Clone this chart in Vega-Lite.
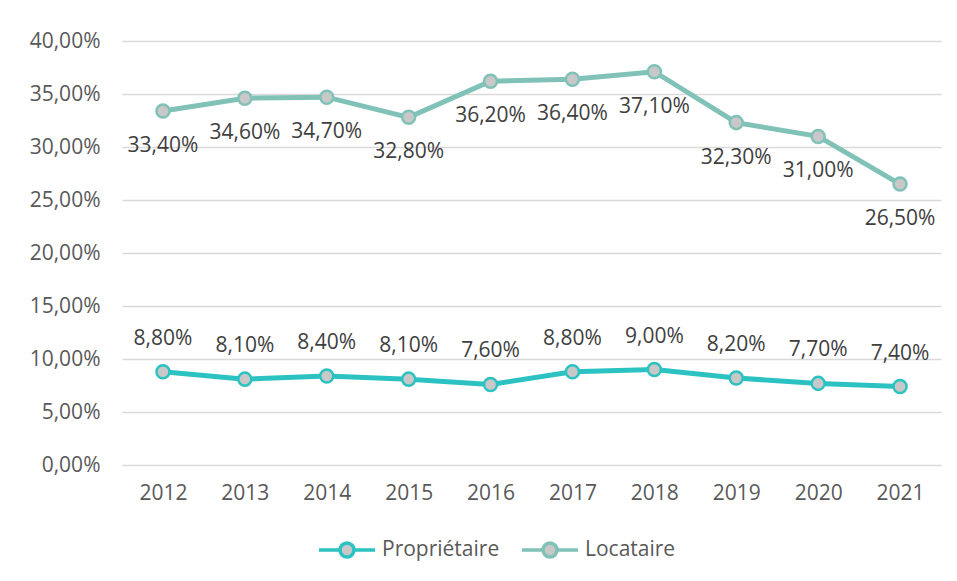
{
  "$schema": "https://vega.github.io/schema/vega-lite/v6.json",
  "width": 819,
  "height": 424,
  "autosize": "none",
  "padding": {"left": 122, "top": 41, "right": 16, "bottom": 116},
  "background": "white",
  "config": {
    "locale": {"number": {"decimal": ",", "thousands": " ", "grouping": [3], "currency": ["", " €"]}},
    "view": {"stroke": null},
    "font": "Open Sans"
  },
  "data": {
    "values": [
      {"year": "2012", "serie": "Propriétaire", "value": 0.088},
      {"year": "2013", "serie": "Propriétaire", "value": 0.081},
      {"year": "2014", "serie": "Propriétaire", "value": 0.084},
      {"year": "2015", "serie": "Propriétaire", "value": 0.081},
      {"year": "2016", "serie": "Propriétaire", "value": 0.076},
      {"year": "2017", "serie": "Propriétaire", "value": 0.088},
      {"year": "2018", "serie": "Propriétaire", "value": 0.090},
      {"year": "2019", "serie": "Propriétaire", "value": 0.082},
      {"year": "2020", "serie": "Propriétaire", "value": 0.077},
      {"year": "2021", "serie": "Propriétaire", "value": 0.074},
      {"year": "2012", "serie": "Locataire", "value": 0.334},
      {"year": "2013", "serie": "Locataire", "value": 0.346},
      {"year": "2014", "serie": "Locataire", "value": 0.347},
      {"year": "2015", "serie": "Locataire", "value": 0.328},
      {"year": "2016", "serie": "Locataire", "value": 0.362},
      {"year": "2017", "serie": "Locataire", "value": 0.364},
      {"year": "2018", "serie": "Locataire", "value": 0.371},
      {"year": "2019", "serie": "Locataire", "value": 0.323},
      {"year": "2020", "serie": "Locataire", "value": 0.310},
      {"year": "2021", "serie": "Locataire", "value": 0.265}
    ]
  },
  "encoding": {
    "x": {
      "field": "year", "type": "ordinal",
      "scale": {"type": "point", "padding": 0.5},
      "axis": {"title": null, "labelAngle": 0, "domain": false, "ticks": false, "grid": false,
               "labelFontSize": 21, "labelColor": "#595959", "labelPadding": 17}
    },
    "y": {
      "field": "value", "type": "quantitative",
      "scale": {"domain": [0, 0.4], "nice": false},
      "axis": {"title": null, "format": ".2%", "values": [0,0.05,0.1,0.15,0.2,0.25,0.3,0.35,0.4],
               "labelOverlap": false, "labelBound": false,
               "domain": false, "ticks": false, "grid": true, "gridColor": "#d9d9d9", "gridWidth": 1.5,
               "labelFontSize": 21, "labelColor": "#595959", "labelPadding": 22}
    }
  },
  "layer": [
    {
      "mark": {"type": "line", "strokeWidth": 5},
      "encoding": {
        "color": {
          "field": "serie", "type": "nominal",
          "scale": {"domain": ["Propriétaire", "Locataire"], "range": ["#2dc2c2", "#80c2b8"]},
          "legend": {
            "title": null, "orient": "none", "direction": "horizontal",
            "legendX": 209, "legendY": 493,
            "labelFontSize": 21, "labelColor": "#595959",
            "symbolType": "M -2 0 L -0.5 0 M 0.5 0 L 2 0 M -0.5 0 A 0.5 0.5 0 1 0 0.5 0 A 0.5 0.5 0 1 0 -0.5 0",
            "symbolSize": 784, "symbolStrokeWidth": 3.5, "symbolFillColor": "#c8c8c8",
            "labelOffset": 19, "columnPadding": 15
          }
        }
      }
    },
    {
      "mark": {"type": "point", "filled": true, "fill": "#c8c8c8", "size": 170, "strokeWidth": 2.5, "opacity": 1},
      "encoding": {
        "stroke": {"field": "serie", "type": "nominal",
                   "scale": {"domain": ["Propriétaire", "Locataire"], "range": ["#2dc2c2", "#80c2b8"]},
                   "legend": null}
      }
    },
    {
      "transform": [{"filter": "datum.serie === 'Propriétaire'"}],
      "mark": {"type": "text", "dy": -33, "fontSize": 21, "color": "#404040"},
      "encoding": {"text": {"field": "value", "type": "quantitative", "format": ".2%"}}
    },
    {
      "transform": [{"filter": "datum.serie === 'Locataire'"}],
      "mark": {"type": "text", "dy": 35, "fontSize": 21, "color": "#404040"},
      "encoding": {"text": {"field": "value", "type": "quantitative", "format": ".2%"}}
    }
  ]
}
